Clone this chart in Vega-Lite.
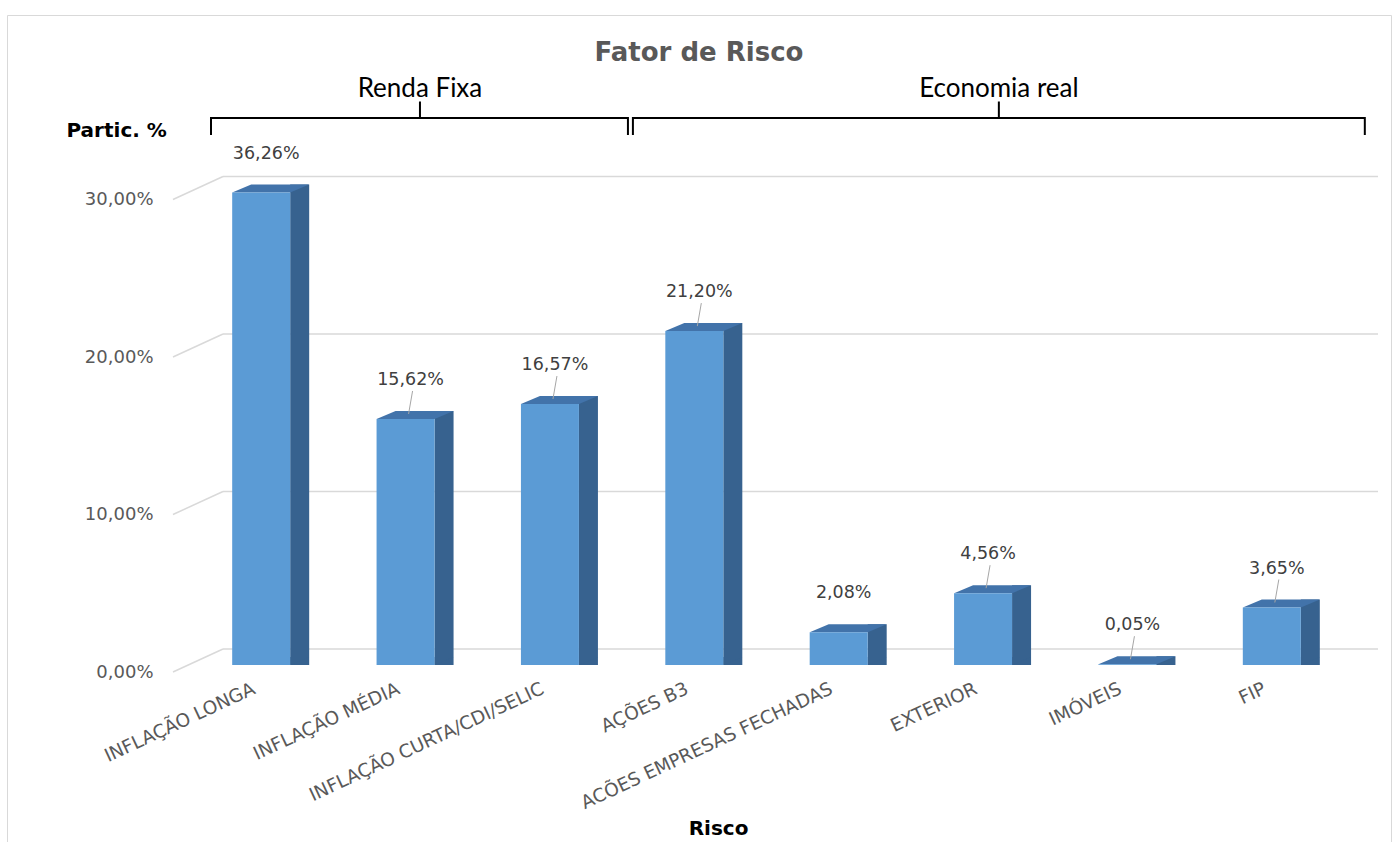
{
  "$schema": "https://vega.github.io/schema/vega-lite/v6.json",
  "width": 1384,
  "height": 837,
  "autosize": {"type": "none"},
  "padding": {"left": 7, "top": 15, "right": 6, "bottom": 0},
  "background": "white",
  "title": {
    "text": "Fator de Risco",
    "anchor": "middle",
    "frame": "group",
    "font": "DejaVu Sans",
    "fontSize": 26,
    "fontWeight": "bold",
    "color": "#595959",
    "dy": 55
  },
  "config": {
    "font": "DejaVu Sans",
    "view": {"stroke": "#d9d9d9", "strokeWidth": 1},
    "locale": {
      "number": {"decimal": ",", "thousands": ".", "grouping": [3], "currency": ["R$ ", ""]}
    }
  },
  "datasets": {
    "fatores": [
      {"categoria": "INFLAÇÃO LONGA", "valor": 0.3626},
      {"categoria": "INFLAÇÃO MÉDIA", "valor": 0.1562},
      {"categoria": "INFLAÇÃO CURTA/CDI/SELIC", "valor": 0.1657},
      {"categoria": "AÇÕES B3", "valor": 0.2120},
      {"categoria": "ACÕES EMPRESAS FECHADAS", "valor": 0.0208},
      {"categoria": "EXTERIOR", "valor": 0.0456},
      {"categoria": "IMÓVEIS", "valor": 0.0005},
      {"categoria": "FIP", "valor": 0.0365}
    ],
    "grade": [{"nivel": 0}, {"nivel": 0.1}, {"nivel": 0.2}, {"nivel": 0.3}]
  },
  "layer": [
    {
      "data": {"name": "grade"},
      "layer": [
        {
          "mark": {"type": "rule", "color": "#d9d9d9", "strokeWidth": 1.5, "xOffset": -38.2, "x2Offset": 106.2, "yOffset": -16},
          "encoding": {
            "x": {"datum": "INFLAÇÃO LONGA", "type": "nominal"},
            "x2": {"datum": "FIP"},
            "y": {"field": "nivel", "type": "quantitative"}
          }
        },
        {
          "mark": {"type": "rule", "color": "#d9d9d9", "strokeWidth": 1.5, "xOffset": -88.2, "x2Offset": -38.2, "yOffset": 7, "y2Offset": -16},
          "encoding": {
            "x": {"datum": "INFLAÇÃO LONGA", "type": "nominal"},
            "x2": {"datum": "INFLAÇÃO LONGA"},
            "y": {"field": "nivel", "type": "quantitative"},
            "y2": {"field": "nivel"}
          }
        }
      ]
    },
    {
      "data": {"name": "fatores"},
      "layer": [
        {
          "mark": {"type": "bar", "color": "#37628f", "width": 19, "xOffset": 38.5, "yOffset": -8, "y2Offset": -8},
          "encoding": {
            "x": {"field": "categoria", "type": "nominal", "sort": null},
            "y": {"field": "valor", "type": "quantitative", "stack": null}
          }
        },
        {
          "mark": {"type": "point", "shape": "M29,-8L29,0L48,-8Z", "size": 4, "filled": true, "color": "#37628f", "opacity": 1, "strokeWidth": 0},
          "encoding": {
            "x": {"field": "categoria", "type": "nominal", "sort": null},
            "y": {"datum": 0, "type": "quantitative"}
          }
        },
        {
          "mark": {"type": "point", "shape": "M-29,0L29,0L48,-8L-10,-8Z", "size": 4, "filled": true, "color": "#4273aa", "opacity": 1, "strokeWidth": 0},
          "encoding": {
            "x": {"field": "categoria", "type": "nominal", "sort": null},
            "y": {"field": "valor", "type": "quantitative"}
          }
        },
        {
          "mark": {"type": "bar", "color": "#5b9bd5", "width": 58},
          "encoding": {
            "x": {
              "field": "categoria",
              "type": "nominal",
              "sort": null,
              "scale": {
                "domain": ["INFLAÇÃO LONGA", "INFLAÇÃO MÉDIA", "INFLAÇÃO CURTA/CDI/SELIC", "AÇÕES B3", "ACÕES EMPRESAS FECHADAS", "EXTERIOR", "IMÓVEIS", "FIP"],
                "range": [182, 1337],
                "paddingInner": 0,
                "paddingOuter": 0
              },
              "axis": {
                "title": "Risco",
                "titleFont": "DejaVu Sans",
                "titleFontSize": 20,
                "titleFontWeight": "bold",
                "titleColor": "#000000",
                "titleX": 711,
                "titleY": 163,
                "titleBaseline": "middle",
                "titleAlign": "center",
                "labelAngle": -25,
                "labelAlign": "right",
                "labelBaseline": "top",
                "labelPadding": 14,
                "labelOffset": -11,
                "labelFont": "DejaVu Sans",
                "labelFontSize": 18.5,
                "labelColor": "#595959",
                "labelLimit": 400,
                "domain": false,
                "ticks": false,
                "grid": false,
                "offset": -187
              }
            },
            "y": {
              "field": "valor",
              "type": "quantitative",
              "stack": null,
              "scale": {"domain": [0, 0.3], "range": [650, 177.5], "clamp": true, "nice": false, "zero": true},
              "axis": {
                "title": "Partic. %",
                "titleAngle": 0,
                "titleAlign": "left",
                "titleBaseline": "middle",
                "titleX": -87,
                "titleY": 115,
                "titleFont": "DejaVu Sans",
                "titleFontSize": 20,
                "titleFontWeight": "bold",
                "titleColor": "#000000",
                "values": [0, 0.1, 0.2, 0.3],
                "format": ".2%",
                "labelFont": "DejaVu Sans",
                "labelFontSize": 18,
                "labelColor": "#595959",
                "labelPadding": 0,
                "labelOffset": 7,
                "offset": -146,
                "domain": false,
                "ticks": false,
                "grid": false
              }
            }
          }
        },
        {
          "transform": [{"filter": "(datum.valor > 0.03 && datum.valor < 0.3) || datum.valor < 0.01"}],
          "mark": {"type": "rule", "color": "#a6a6a6", "strokeWidth": 1, "xOffset": 3, "x2Offset": 7, "yOffset": -5, "y2Offset": -28},
          "encoding": {
            "x": {"field": "categoria", "type": "nominal", "sort": null},
            "x2": {"field": "categoria"},
            "y": {"field": "valor", "type": "quantitative"},
            "y2": {"field": "valor"}
          }
        },
        {
          "mark": {"type": "text", "font": "DejaVu Sans", "fontSize": 17.5, "color": "#404040", "baseline": "middle", "align": "center", "xOffset": 5, "yOffset": -39},
          "encoding": {
            "x": {"field": "categoria", "type": "nominal", "sort": null},
            "y": {"field": "valor", "type": "quantitative"},
            "text": {"field": "valor", "type": "quantitative", "format": ".2%"}
          }
        }
      ]
    },
    {
      "data": {"values": [{"grupo": "Renda Fixa", "inicio": "INFLAÇÃO LONGA", "meio": "INFLAÇÃO MÉDIA", "fim": "INFLAÇÃO CURTA/CDI/SELIC"}]},
      "layer": [
        {
          "mark": {"type": "rule", "color": "#000000", "strokeWidth": 2, "xOffset": -50.2, "x2Offset": 78, "yOffset": -74.5},
          "encoding": {
            "x": {"field": "inicio", "type": "nominal"},
            "x2": {"field": "fim"},
            "y": {"datum": 0.3, "type": "quantitative"}
          }
        },
        {
          "mark": {"type": "rule", "color": "#000000", "strokeWidth": 2, "xOffset": -50.2, "yOffset": -75.5, "y2Offset": -57.5},
          "encoding": {
            "x": {"field": "inicio", "type": "nominal"},
            "y": {"datum": 0.3, "type": "quantitative"},
            "y2": {"datum": 0.3}
          }
        },
        {
          "mark": {"type": "rule", "color": "#000000", "strokeWidth": 2, "xOffset": 78, "yOffset": -75.5, "y2Offset": -57.5},
          "encoding": {
            "x": {"field": "fim", "type": "nominal"},
            "y": {"datum": 0.3, "type": "quantitative"},
            "y2": {"datum": 0.3}
          }
        },
        {
          "mark": {"type": "rule", "color": "#000000", "strokeWidth": 2, "xOffset": 14.4, "yOffset": -74.5, "y2Offset": -91},
          "encoding": {
            "x": {"field": "meio", "type": "nominal"},
            "y": {"datum": 0.3, "type": "quantitative"},
            "y2": {"datum": 0.3}
          }
        },
        {
          "mark": {"type": "text", "font": "Lato", "fontSize": 26, "color": "#000000", "align": "center", "baseline": "alphabetic", "xOffset": 14.4, "yOffset": -95.5},
          "encoding": {
            "x": {"field": "meio", "type": "nominal"},
            "y": {"datum": 0.3, "type": "quantitative"},
            "text": {"field": "grupo"}
          }
        }
      ]
    },
    {
      "data": {"values": [{"grupo": "Economia real", "inicio": "AÇÕES B3", "meio": "EXTERIOR", "fim": "FIP"}]},
      "layer": [
        {
          "mark": {"type": "rule", "color": "#000000", "strokeWidth": 2, "xOffset": -61.4, "x2Offset": 93, "yOffset": -74.5},
          "encoding": {
            "x": {"field": "inicio", "type": "nominal"},
            "x2": {"field": "fim"},
            "y": {"datum": 0.3, "type": "quantitative"}
          }
        },
        {
          "mark": {"type": "rule", "color": "#000000", "strokeWidth": 2, "xOffset": -61.4, "yOffset": -75.5, "y2Offset": -57.5},
          "encoding": {
            "x": {"field": "inicio", "type": "nominal"},
            "y": {"datum": 0.3, "type": "quantitative"},
            "y2": {"datum": 0.3}
          }
        },
        {
          "mark": {"type": "rule", "color": "#000000", "strokeWidth": 2, "xOffset": 93, "yOffset": -75.5, "y2Offset": -57.5},
          "encoding": {
            "x": {"field": "fim", "type": "nominal"},
            "y": {"datum": 0.3, "type": "quantitative"},
            "y2": {"datum": 0.3}
          }
        },
        {
          "mark": {"type": "rule", "color": "#000000", "strokeWidth": 2, "xOffset": 15.8, "yOffset": -74.5, "y2Offset": -91},
          "encoding": {
            "x": {"field": "meio", "type": "nominal"},
            "y": {"datum": 0.3, "type": "quantitative"},
            "y2": {"datum": 0.3}
          }
        },
        {
          "mark": {"type": "text", "font": "Lato", "fontSize": 26, "color": "#000000", "align": "center", "baseline": "alphabetic", "xOffset": 15.8, "yOffset": -95.5},
          "encoding": {
            "x": {"field": "meio", "type": "nominal"},
            "y": {"datum": 0.3, "type": "quantitative"},
            "text": {"field": "grupo"}
          }
        }
      ]
    }
  ]
}
